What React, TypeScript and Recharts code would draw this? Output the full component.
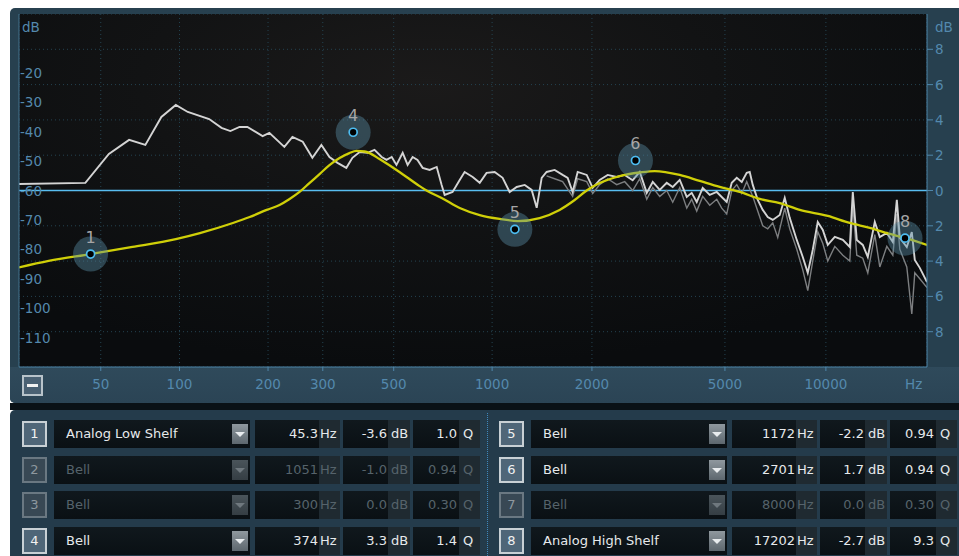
import React from 'react';
import { ComposedChart, Line, Scatter, XAxis, YAxis, CartesianGrid, ReferenceLine } from 'recharts';

// analyser trace (Hz / dB on the left scale)
const specFreq = [
  20, 43, 54, 65, 75, 86, 97, 107, 127, 140,
  150, 161, 171, 192, 202, 226, 240, 259, 278, 297,
  315, 334, 356, 372, 392, 415, 436, 459, 475, 493,
  510, 533, 552, 572, 592, 614, 645, 678, 702, 717,
  758, 797, 825, 873, 917, 962, 1018, 1076, 1130, 1187,
  1255, 1317, 1364, 1412, 1461, 1545, 1633, 1691, 1750, 1812,
  1929, 2011, 2110, 2230, 2373, 2508, 2650, 2782, 2920, 3043,
  3193, 3351, 3492, 3665, 3846, 3979, 4119, 4292, 4504, 4727,
  4891, 5062, 5240, 5424, 5613, 5808, 5929, 6054, 6264, 6483,
  6710, 6945, 7286, 7540, 7803, 8189, 8533, 8831, 9138, 9457,
  9791, 10130, 10631, 11231, 11783, 12027, 12361, 12879, 13329, 13984,
  14472, 15185, 15824, 16264, 16601, 17414, 18021, 18395, 19037, 20000,
];
const specDb = [
  -57.8, -57.4, -47.6, -42.8, -44.5, -35.0, -30.9, -33.3, -35.7, -38.7,
  -39.8, -38.4, -38.4, -41.5, -40.4, -45.2, -41.8, -43.4, -48.9, -44.5,
  -48.6, -50.6, -52.3, -48.9, -46.9, -47.2, -46.2, -48.6, -49.6, -48.6,
  -51.3, -47.2, -51.3, -48.6, -49.6, -52.3, -53.0, -52.0, -58.1, -61.5,
  -60.5, -56.4, -53.7, -55.4, -57.4, -54.0, -53.7, -55.7, -60.5, -58.8,
  -58.1, -59.8, -65.9, -55.7, -53.7, -53.0, -54.7, -55.7, -60.5, -53.7,
  -54.7, -59.1, -56.4, -54.7, -55.4, -54.7, -56.5, -53.7, -60.8, -57.1,
  -59.8, -57.4, -58.8, -56.4, -62.2, -60.8, -63.9, -59.1, -61.5, -60.5,
  -62.2, -63.9, -57.4, -55.7, -57.1, -54.0, -53.7, -58.1, -63.2, -66.6,
  -69.0, -70.0, -68.3, -62.5, -69.3, -76.8, -82.6, -88.0, -80.2, -70.7,
  -73.4, -78.5, -75.8, -76.8, -79.2, -60.5, -76.8, -78.5, -82.6, -70.7,
  -75.8, -74.4, -77.5, -63.2, -76.1, -79.2, -74.1, -83.6, -86.3, -91.1,
];

// darker raw trace with the deeper dips (upper band only)
const rawFreq = [
  1461, 1545, 1633, 1750, 1812, 1929, 2011, 2110, 2230, 2373,
  2508, 2650, 2782, 2920, 3043, 3193, 3351, 3492, 3665, 3846,
  3979, 4119, 4292, 4504, 4727, 4891, 5062, 5240, 5424, 5613,
  5808, 6054, 6264, 6483, 6710, 6945, 7186, 7540, 7803, 8189,
  8533, 8831, 9138, 9457, 9791, 10130, 10631, 11231, 11783, 12027,
  12361, 12879, 13329, 13984, 14472, 15185, 15824, 16264, 16601, 17414,
  18021, 18395, 19037, 20000,
];
const rawDb = [
  -55, -56, -57, -62, -56, -57, -61, -58, -56, -58,
  -57, -60, -56, -63, -59, -62, -60, -64, -59, -66,
  -63, -67, -62, -65, -63, -66, -68, -60, -58, -61,
  -57, -62, -67, -72, -73, -71, -76, -66, -73, -80,
  -87, -94, -84, -74, -78, -84, -79, -82, -84, -65,
  -82, -83, -88, -75, -86, -79, -82, -68, -80, -86,
  -102, -88, -90, -93,
];

// summed EQ response (dB on the right scale)
const eqFreq = [
  20, 29, 45.3, 67, 97, 118, 153, 174, 198, 218,
  235, 253, 272, 293, 315, 339, 364, 383, 406, 421,
  452, 521, 601, 631, 702, 797, 917, 1054, 1197, 1392,
  1599, 1775, 1929, 2110, 2423, 2782, 3084, 3665, 4204, 4825,
  5537, 6351, 7286, 8360, 10130, 11783, 13515, 15502, 17202, 20000,
];
const eqGain = [
  -4.36, -3.99, -3.6, -3.2, -2.75, -2.41, -1.84, -1.5, -1.1, -0.82,
  -0.48, -0.08, 0.42, 0.93, 1.44, 1.84, 2.12, 2.24, 2.21, 2.12,
  1.78, 1.05, 0.25, 0, -0.42, -0.99, -1.39, -1.61, -1.73, -1.56,
  -1.1, -0.54, 0, 0.42, 0.82, 1.02, 1.1, 0.88, 0.54, 0.2,
  -0.08, -0.48, -0.71, -1.1, -1.44, -1.84, -2.12, -2.46, -2.69, -3.09,
];

// band table
const bandNos = [1, 2, 3, 4, 5, 6, 7, 8];
const bandTypes = ['Analog Low Shelf', 'Bell', 'Bell', 'Bell', 'Bell', 'Bell', 'Bell', 'Analog High Shelf'];
const bandFreqText = ['45.3', '1051', '300', '374', '1172', '2701', '8000', '17202'];
const bandGainText = ['-3.6', '-1.0', '0.0', '3.3', '-2.2', '1.7', '0.0', '-2.7'];
const bandQText = ['1.0', '0.94', '0.30', '1.4', '0.94', '0.94', '0.30', '9.3'];
const bandOn = [true, false, false, true, true, true, false, true];

const freqTicks = [50, 100, 200, 300, 500, 1000, 2000, 5000, 10000];
const levelTicks = [-20, -30, -40, -50, -60, -70, -80, -90, -100, -110];
const gainTicks = [8, 6, 4, 2, 0, -2, -4, -6, -8];

const FONT = '"DejaVu Sans", Verdana, sans-serif';
const AXIS_TXT = '#5489ad';
const AXIS_LINE = '#4f86aa';

// the analyser's frequency axis is log(f + 20)
const toX = (f: number) => Math.log10(f + 20);
const fromX = (x: number) => Math.round(Math.pow(10, x) - 20);

const specData = specFreq.map((f, i) => ({ x: toX(f), v: specDb[i] }));
const rawData = rawFreq.map((f, i) => ({ x: toX(f), v: rawDb[i] }));
const eqData = eqFreq.map((f, i) => ({ x: toX(f), g: eqGain[i] }));
const nodeData = bandNos
  .map((n, i) => ({ n, x: toX(parseFloat(bandFreqText[i])), g: parseFloat(bandGainText[i]), on: bandOn[i] }))
  .filter((d) => d.on);

const LevelTick = (p: any) => (
  <text x={p.x + 1} y={p.y} dy={5} fill={AXIS_TXT} fontSize={13.5} fontFamily={FONT} textAnchor="start">
    {p.payload.value}
  </text>
);

const GainTick = (p: any) => (
  <text x={p.x} y={p.y} dy={5} fill={AXIS_TXT} fontSize={13.5} fontFamily={FONT} textAnchor="start">
    {Math.abs(p.payload.value)}
  </text>
);

const BandNode = (p: any) => {
  const { cx, cy, payload } = p;
  return (
    <g>
      <circle cx={cx} cy={cy} r={17.5} fill="#5a8ea8" fillOpacity={0.42} />
      <circle cx={cx} cy={cy} r={4} fill="#000" stroke="#4dbcf0" strokeWidth={1.7} />
      <text x={cx} y={cy - 11} textAnchor="middle" fontSize={16} fill="#a6a6a6" fontFamily={FONT}>
        {payload.n}
      </text>
    </g>
  );
};

const BandRow = ({ i }: { i: number }) => {
  const off = i < 4 ? 0 : 477;
  const top = 420 + (i % 4) * 35.7;
  const on = bandOn[i];
  const txt = on ? '#e6e9eb' : '#56636b';
  const cell: React.CSSProperties = {
    position: 'absolute', top, height: 28, boxSizing: 'border-box', fontSize: 13, lineHeight: '28px', color: txt,
  };
  const valBg = 'linear-gradient(#10181d, #0a1014)';
  const unitBg = '#1f2a31';
  return (
    <>
      <div style={{
        ...cell, left: 22 + off, top: top + 1, width: 25, height: 26, lineHeight: '22px', textAlign: 'center',
        border: `2px solid ${on ? '#c8d0d5' : '#6a7882'}`, background: on ? '#4f6678' : '#384854',
        color: on ? '#f2f2f2' : '#8e989f',
      }}>{bandNos[i]}</div>
      <div style={{ ...cell, left: 54 + off, width: 196, background: valBg, paddingLeft: 12 }}>{bandTypes[i]}</div>
      <div style={{
        position: 'absolute', left: 232 + off, top: top + 4, width: 16, height: 20,
        background: on ? 'linear-gradient(#8f989e, #5d676e)' : 'linear-gradient(#4a545a, #353e44)',
      }}>
        <div style={{
          position: 'absolute', left: 3, top: 8, width: 0, height: 0,
          borderLeft: '5px solid transparent', borderRight: '5px solid transparent',
          borderTop: `5px solid ${on ? '#e8ecee' : '#6f787e'}`,
        }} />
      </div>
      <div style={{ ...cell, left: 255 + off, width: 64, background: valBg, textAlign: 'right', paddingRight: 1 }}>{bandFreqText[i]}</div>
      <div style={{ ...cell, left: 319 + off, width: 21, background: unitBg, paddingLeft: 1 }}>Hz</div>
      <div style={{ ...cell, left: 343 + off, width: 45, background: valBg, textAlign: 'right', paddingRight: 1 }}>{bandGainText[i]}</div>
      <div style={{ ...cell, left: 388 + off, width: 22, background: unitBg, paddingLeft: 3 }}>dB</div>
      <div style={{ ...cell, left: 413 + off, width: 46, background: valBg, textAlign: 'right', paddingRight: 2 }}>{bandQText[i]}</div>
      <div style={{ ...cell, left: 459 + off, width: 21, background: unitBg, paddingLeft: 4 }}>Q</div>
    </>
  );
};

export default function App() {
  return (
    <div style={{ position: 'fixed', left: 0, top: 0, width: 959, height: 556, background: '#fff', overflow: 'hidden', fontFamily: FONT }}>
      {/* analyser panel */}
      <div style={{ position: 'absolute', left: 10, top: 8, width: 949, height: 395, background: '#27404f', borderRadius: '5px 0 0 5px' }}>
        <div style={{ position: 'absolute', left: 0, top: 359, width: 949, height: 36, background: 'linear-gradient(#2f4a5b, #2b4455)', borderRadius: '0 0 0 5px' }} />
        <div style={{
          position: 'absolute', left: 9, top: 6, width: 908, height: 353,
          background: 'radial-gradient(ellipse 70% 80% at 45% 20%, #1b1a1a 0%, #121314 45%, #0a0c0e 100%)',
        }} />
        <ComposedChart width={949} height={395} margin={{ top: 6, right: 0, bottom: 0, left: 0 }} style={{ position: 'absolute', left: 0, top: 0 }}>
          <CartesianGrid stroke="#244351" strokeDasharray="1 3" />
          <XAxis
            type="number" dataKey="x" domain={[toX(20), toX(20000)]} allowDataOverflow
            ticks={freqTicks.map(toX)} interval={0} tickFormatter={(v: number) => String(fromX(v))}
            height={36} tickSize={4} tickMargin={8}
            stroke={AXIS_LINE} tick={{ fill: AXIS_TXT, fontSize: 13.5, fontFamily: FONT }}
          />
          <YAxis
            yAxisId="spec" orientation="left" type="number" domain={[-120, 0]} allowDataOverflow
            ticks={levelTicks} interval={0} width={9} tickSize={0} tickMargin={0} tickLine={false}
            stroke="#44728f" tick={<LevelTick />}
          />
          <YAxis
            orientation="right" type="number" domain={[-10, 10]} allowDataOverflow
            ticks={gainTicks} interval={0} width={32} tickSize={6} tickMargin={2}
            stroke={AXIS_LINE} tick={<GainTick />}
          />
          <ReferenceLine y={0} stroke="#58bdf0" strokeWidth={1.6} />
          <Line data={rawData} dataKey="v" yAxisId="spec" type="linear" stroke="#7d7f81" strokeWidth={1.4} dot={false} isAnimationActive={false} />
          <Line data={specData} dataKey="v" yAxisId="spec" type="linear" stroke="#d4d4d4" strokeWidth={1.9} dot={false} isAnimationActive={false} />
          <Line data={eqData} dataKey="g" type="monotone" stroke="#cfcf08" strokeWidth={2.3} dot={false} isAnimationActive={false} />
          <Scatter data={nodeData} dataKey="g" shape={<BandNode />} isAnimationActive={false} />
        </ComposedChart>
        <div style={{ position: 'absolute', left: 12, top: 11, fontSize: 13.5, color: AXIS_TXT }}>dB</div>
        <div style={{ position: 'absolute', left: 925, top: 11, fontSize: 13.5, color: AXIS_TXT }}>dB</div>
        <div style={{ position: 'absolute', left: 895, top: 367, fontSize: 13.5, color: AXIS_TXT, lineHeight: '18px' }}>Hz</div>
        <div style={{
          position: 'absolute', left: 12, top: 367, width: 21, height: 21, boxSizing: 'border-box',
          border: '2px solid #b8c3ca', background: '#4a6173',
        }}>
          <div style={{ position: 'absolute', left: 3, top: 7, width: 11, height: 3, background: '#f2f2f2' }} />
        </div>
      </div>
      <div style={{ position: 'absolute', left: 10, top: 403, width: 949, height: 7, background: '#0a1116' }} />
      {/* band panel */}
      <div style={{ position: 'absolute', left: 10, top: 410, width: 949, height: 146, background: '#243b4b', borderRadius: '5px 0 0 0' }} />
      <div style={{ position: 'absolute', left: 487, top: 413, height: 143, borderLeft: '1px dotted #3f88bc' }} />
      {bandNos.map((n, i) => <BandRow key={n} i={i} />)}
    </div>
  );
}
